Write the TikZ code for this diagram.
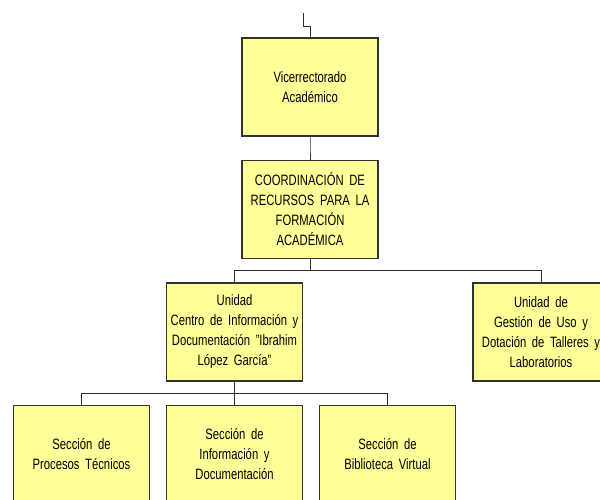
\documentclass[tikz,border=0pt]{standalone}
\usepackage{fontspec}
\setmainfont{Liberation Sans}[FakeStretch=0.75,WordSpace=1.8]
\usepackage{tikz}
\definecolor{boxfill}{RGB}{255,255,153}
\definecolor{boxline}{RGB}{50,50,50}
\definecolor{linegray}{RGB}{45,45,45}

\begin{document}
\begin{tikzpicture}[x=1pt,y=1pt,every node/.style={draw=boxline, fill=boxfill, line width=1.2pt, minimum width=136pt, minimum height=98pt, inner sep=0pt, align=center, text=black, font=\fontsize{15}{20}\selectfont},level distance=122.5pt,level 2/.style={sibling distance=306.5pt},level 3/.style={sibling distance=153pt},edge from parent/.style={draw=linegray, line width=1pt},edge from parent path={(\tikzparentnode.south) -- ++(0,-11.5pt) -| (\tikzchildnode.north)}]

	\useasboundingbox (0,0) rectangle (600,499);
	\coordinate (top) at (303,486);
	
	\node (vice) at (310,412) {Vicerrectorado\\Académico}
	child {
		node (coord) {COORDINACIÓN DE\\RECURSOS PARA LA\\FORMACIÓN\\ACADÉMICA}
		child[xshift=77.75pt] {
			node (cid) {Unidad\\Centro de Información y\\Documentación "Ibrahim\\López García"}
			child {
				node (proc) {Sección de\\Procesos Técnicos}
			}
			child {
				node (info) {Sección de\\Información y\\Documentación}
			}
			child {
				node (bib) {Sección de\\Biblioteca Virtual}
			}
		}
		child[xshift=77.75pt] {
			node (gest) {Unidad de\\Gestión de Uso y\\Dotación de Talleres y\\Laboratorios}
		}
	};
	
	\draw[linegray, line width=1pt] (top) -- ++(0,-14) -| (vice.north);
\end{tikzpicture}
\end{document}
